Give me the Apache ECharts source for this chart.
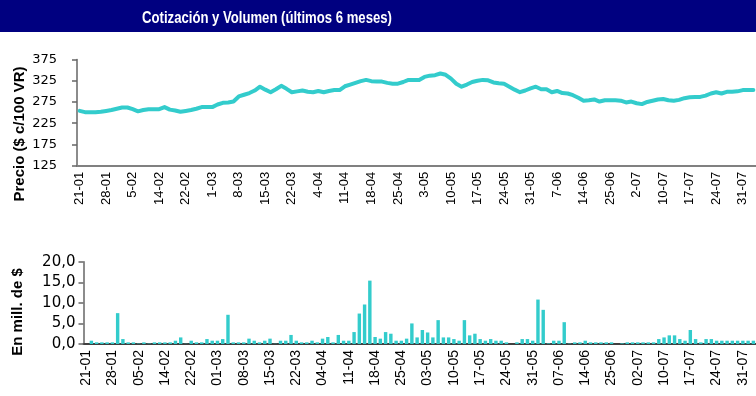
<!DOCTYPE html>
<html>
<head>
<meta charset="utf-8">
<script src="https://cdn.jsdelivr.net/npm/echarts@6/dist/echarts.min.js"></script>
<style>
  html, body { margin: 0; padding: 0; background: #fff; }
  #chart { width: 756px; height: 396px; }
</style>
</head>
<body>
<div id="chart"></div>
<script>
// Daily closing price ($ per 100 VR), one value per trading session
const price = [
  254, 251, 251, 251, 252, 254, 256, 259, 262, 262,
  258, 253, 256, 258, 258, 258, 263, 257, 255, 252,
  254, 256, 259, 263, 263, 263, 269, 273, 274, 276,
  288, 292, 296, 302, 311, 304, 298, 305, 313, 306,
  298, 300, 302, 299, 298, 301, 298, 301, 303, 303,
  312, 316, 320, 324, 327, 324, 323, 323, 320, 318,
  318, 322, 327, 327, 327, 334, 337, 338, 342, 339,
  330, 318, 311, 316, 322, 325, 327, 326, 321, 319,
  318, 311, 304, 298, 302, 307, 311, 305, 305, 298,
  301, 296, 295, 291, 285, 278, 279, 281, 276, 279,
  279, 279, 278, 274, 276, 272, 270, 275, 278, 281,
  282, 279, 278, 280, 284, 286, 287, 287, 290, 295,
  298, 295, 299, 299, 300, 303, 303, 303
];

// Daily traded volume (millions of $), same sessions
const volume = [
  0, 0.8, 0.4, 0.4, 0.4, 0.4, 7.5, 1.2, 0.4, 0.4,
  0.1, 0.4, 0.1, 0.4, 0.4, 0.4, 0.4, 0.8, 1.6, 0.05,
  0.8, 0.4, 0.4, 1.2, 0.8, 0.8, 1.2, 7.1, 0.4, 0.4,
  0.4, 1.3, 0.8, 0.4, 0.8, 1.3, 0.05, 0.8, 0.8, 2.2,
  0.8, 0.4, 0.4, 0.8, 0.4, 1.3, 1.7, 0.4, 2.2, 0.8,
  0.8, 2.9, 7.4, 9.6, 15.4, 1.7, 1.3, 2.9, 2.5, 0.8,
  0.8, 1.3, 5.0, 1.6, 3.4, 2.8, 1.6, 5.8, 1.6, 1.6,
  1.2, 0.8, 5.8, 2.1, 2.5, 1.2, 0.8, 1.2, 0.8, 0.8,
  0.4, 0, 0.4, 1.2, 1.2, 0.8, 10.8, 8.3, 0.15, 0.8,
  0.8, 5.3, 0.1, 0.4, 0.4, 0.8, 0.4, 0.4, 0.4, 0.4,
  0.4, 0, 0.15, 0.4, 0.4, 0.4, 0.4, 0.4, 0.4, 1.2,
  1.6, 2.1, 2.1, 1.2, 0.8, 3.4, 1.2, 0.4, 1.2, 1.2,
  0.8, 0.8, 0.8, 0.8, 0.8, 0.8, 0.8, 0.8
];

// Date labels shown every fifth session
const tickStep = 5;
const priceTickLabels = [
  '21-01', '28-01', '5-02', '14-02', '22-02', '1-03', '8-03', '15-03', '22-03',
  '4-04', '11-04', '18-04', '25-04', '3-05', '10-05', '17-05', '24-05', '31-05',
  '7-06', '14-06', '25-06', '2-07', '10-07', '17-07', '24-07', '31-07'
];
const volumeTickLabels = [
  '21-01', '28-01', '05-02', '14-02', '22-02', '01-03', '08-03', '15-03', '22-03',
  '04-04', '11-04', '18-04', '25-04', '03-05', '10-05', '17-05', '24-05', '31-05',
  '07-06', '14-06', '25-06', '02-07', '10-07', '17-07', '24-07', '31-07'
];

const sessions = price.map((_, i) => String(i));
const TEAL = '#33CCCC';

const chart = echarts.init(document.getElementById('chart'), null, { renderer: 'canvas' });

const labelFor = (labels) => (value, index) => {
  const k = index / tickStep;
  return Number.isInteger(k) && labels[k] !== undefined ? labels[k] : '';
};

chart.setOption({
  animation: false,
  backgroundColor: '#ffffff',
  graphic: [
    {
      type: 'rect',
      shape: { x: 0, y: 0, width: 756, height: 32 },
      style: { fill: '#000080' },
      silent: true
    },
    {
      // condensed bold heading
      type: 'text',
      x: 267, y: 19,
      scaleX: 0.82,
      style: {
        text: 'Cotización y Volumen (últimos 6 meses)',
        fill: '#ffffff',
        font: 'bold 16px "Liberation Sans", Arial, sans-serif',
        align: 'center',
        verticalAlign: 'middle'
      }
    },
    {
      type: 'text',
      x: 20, y: 134,
      rotation: Math.PI / 2,
      style: {
        text: 'Precio ($ c/100 VR)',
        fill: '#000000',
        font: 'bold 15px "Liberation Sans", Arial, sans-serif',
        align: 'center',
        verticalAlign: 'middle'
      }
    },
    {
      type: 'text',
      x: 18, y: 312,
      rotation: Math.PI / 2,
      style: {
        text: 'En mill. de $',
        fill: '#000000',
        font: 'bold 15px "Liberation Sans", Arial, sans-serif',
        align: 'center',
        verticalAlign: 'middle'
      }
    }
  ],
  grid: [
    { left: 77, top: 59.5, width: 688, height: 106.2, containLabel: false },
    { left: 83.5, top: 261.7, width: 683, height: 82.3, containLabel: false }
  ],
  xAxis: [
    {
      type: 'category',
      gridIndex: 0,
      data: sessions,
      boundaryGap: true,
      axisLine: { show: true, lineStyle: { color: '#808080', width: 2 } },
      axisTick: { show: false },
      axisLabel: {
        interval: tickStep - 1,
        rotate: 90,
        margin: 6,
        hideOverlap: false,
        color: '#000',
        fontSize: 13,
        fontFamily: '"Liberation Sans", Arial, sans-serif',
        formatter: labelFor(priceTickLabels)
      },
      splitLine: { show: false }
    },
    {
      type: 'category',
      gridIndex: 1,
      data: sessions,
      boundaryGap: true,
      axisLine: { show: true, lineStyle: { color: '#404040', width: 2 } },
      axisTick: { show: false },
      axisLabel: {
        interval: tickStep - 1,
        rotate: 90,
        margin: 6,
        hideOverlap: false,
        color: '#000',
        fontSize: 14,
        fontFamily: '"Liberation Sans", Arial, sans-serif',
        formatter: labelFor(volumeTickLabels)
      },
      splitLine: { show: false }
    }
  ],
  yAxis: [
    {
      type: 'value',
      gridIndex: 0,
      min: 125, max: 375, interval: 50,
      axisLine: { show: true, lineStyle: { color: '#666', width: 1.5 } },
      axisTick: { show: true, length: 5, lineStyle: { color: '#666', width: 1.5 } },
      axisLabel: {
        margin: 20,
        color: '#000',
        fontSize: 13,
        fontFamily: '"DejaVu Sans", sans-serif'
      },
      splitLine: { show: false }
    },
    {
      type: 'value',
      gridIndex: 1,
      min: 0, max: 20, interval: 5,
      axisLine: { show: true, lineStyle: { color: '#666', width: 1.5 } },
      axisTick: { show: true, length: 5, lineStyle: { color: '#666', width: 1.5 } },
      axisLabel: {
        margin: 8,
        color: '#000',
        fontSize: 15,
        fontFamily: '"DejaVu Sans", sans-serif',
        formatter: (v) => v.toFixed(1).replace('.', ',')
      },
      splitLine: { show: false }
    }
  ],
  series: [
    {
      name: 'Precio',
      type: 'line',
      xAxisIndex: 0,
      yAxisIndex: 0,
      data: price,
      symbol: 'none',
      smooth: false,
      lineStyle: { color: TEAL, width: 4, join: 'round', cap: 'round' },
      z: 3
    },
    {
      name: 'Volumen',
      type: 'bar',
      xAxisIndex: 1,
      yAxisIndex: 1,
      data: volume,
      barWidth: '65%',
      itemStyle: { color: TEAL },
      z: 2
    }
  ]
});
</script>
</body>
</html>
